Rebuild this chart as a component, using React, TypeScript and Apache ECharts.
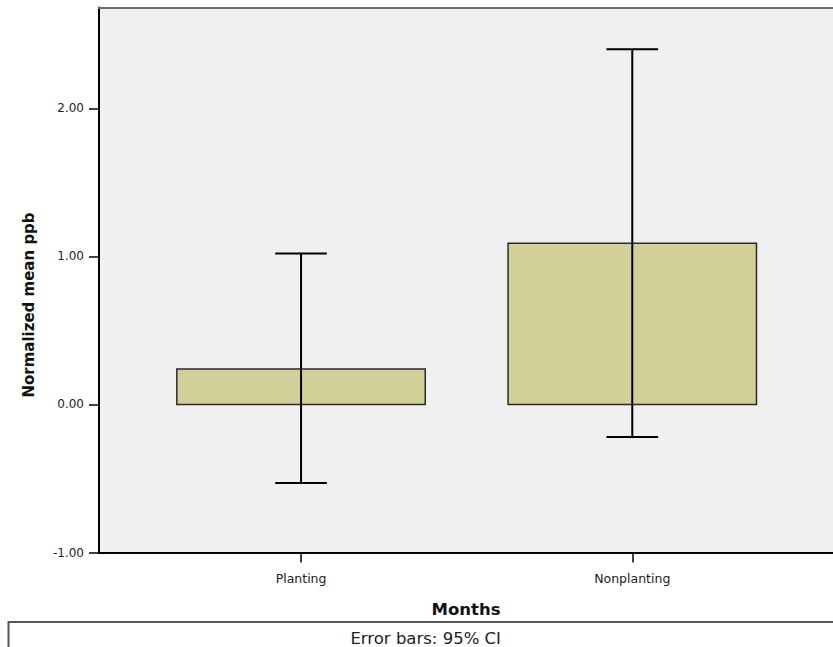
import React, { useEffect, useRef } from "react";
import * as echarts from "echarts";

const categories = ["Planting", "Nonplanting"];
const means = [0.24, 1.09];
const ciLow = [-0.53, -0.22];
const ciHigh = [1.02, 2.4];
const yTicks = [-1, 0, 1, 2];

const FONT = "DejaVu Sans";

export default function App() {
  const ref = useRef<HTMLDivElement>(null);
  useEffect(() => {
    if (!ref.current) return;
    const chart = echarts.init(ref.current, undefined, { renderer: "svg" });
    const catPos = categories.map((_, i) => i);
    const barData = categories.map((c, i) => [i, means[i]]);
    const errData = categories.map((c, i) => [i, ciLow[i], ciHigh[i]]);
    const halfBar = 0.375;
    const halfCap = 0.078;

    chart.setOption({
      animation: false,
      backgroundColor: "#ffffff",
      grid: {
        left: 99,
        top: 7.5,
        right: -2,
        bottom: 94.5,
        show: true,
        backgroundColor: "#f0f0f0",
        borderWidth: 0,
      },
      xAxis: [
        {
          type: "value",
          min: -0.61,
          max: 1.606,
          position: "bottom",
          name: "Months",
          nameLocation: "middle",
          nameGap: 48,
          nameTextStyle: { fontFamily: FONT, fontWeight: "bold", fontSize: 16.5, color: "#111" },
          axisLine: { show: true, onZero: false, lineStyle: { color: "#000", width: 2 } },
          axisTick: { show: true, customValues: catPos, length: 10, lineStyle: { color: "#000", width: 1.5 } },
          axisLabel: {
            customValues: catPos,
            margin: 19,
            fontFamily: FONT,
            fontSize: 12.5,
            color: "#222",
            formatter: (v: number) => categories[Math.round(v)] ?? "",
          },
          splitLine: { show: false },
        },
        {
          type: "value",
          min: -0.61,
          max: 1.606,
          position: "top",
          axisLine: { show: true, onZero: false, lineStyle: { color: "#6e6e6e", width: 2 } },
          axisTick: { show: false },
          axisLabel: { show: false },
          splitLine: { show: false },
        },
      ],
      yAxis: {
        type: "value",
        min: -1,
        max: 2.682,
        name: "Normalized mean ppb",
        nameLocation: "middle",
        nameGap: 63,
        nameTextStyle: {
          fontFamily: FONT,
          fontWeight: "bold",
          fontSize: 15,
          color: "#111",
          padding: [0, 50, 0, 0],
        },
        axisLine: { show: true, onZero: false, lineStyle: { color: "#000", width: 2 } },
        axisTick: { show: true, customValues: yTicks, length: 10, lineStyle: { color: "#000", width: 1.5 } },
        axisLabel: {
          customValues: yTicks,
          margin: 15,
          fontFamily: FONT,
          fontSize: 12,
          color: "#222",
          formatter: (v: number) => v.toFixed(2),
        },
        splitLine: { show: false },
      },
      graphic: [
        {
          type: "rect",
          left: 6,
          top: 619.5,
          shape: { width: 900, height: 60 },
          style: { fill: "none", stroke: "#555", lineWidth: 2 },
          silent: true,
        },
        {
          type: "text",
          x: 425.7,
          y: 638.8,
          style: {
            text: "Error bars: 95% CI",
            font: `16.5px "${FONT}"`,
            fill: "#222",
            textAlign: "center",
            textVerticalAlign: "middle",
          },
          silent: true,
        },
      ],
      series: [
        {
          type: "custom",
          xAxisIndex: 0,
          yAxisIndex: 0,
          data: barData,
          z: 2,
          renderItem: (params: any, api: any) => {
            const x = api.value(0);
            const v = api.value(1);
            const p1 = api.coord([x - halfBar, v]);
            const p2 = api.coord([x + halfBar, 0]);
            return {
              type: "rect",
              shape: {
                x: Math.min(p1[0], p2[0]),
                y: Math.min(p1[1], p2[1]),
                width: Math.abs(p2[0] - p1[0]),
                height: Math.abs(p2[1] - p1[1]),
              },
              style: { fill: "#d3cf98", stroke: "#2a2a2a", lineWidth: 1.5 },
            };
          },
        },
        {
          type: "custom",
          xAxisIndex: 0,
          yAxisIndex: 0,
          data: errData,
          z: 3,
          renderItem: (params: any, api: any) => {
            const x = api.value(0);
            const lo = api.value(1);
            const hi = api.value(2);
            const pLo = api.coord([x, lo]);
            const pHi = api.coord([x, hi]);
            const cl1 = api.coord([x - halfCap, lo]);
            const cl2 = api.coord([x + halfCap, lo]);
            const ch1 = api.coord([x - halfCap, hi]);
            const ch2 = api.coord([x + halfCap, hi]);
            const st = { stroke: "#000", lineWidth: 2 };
            return {
              type: "group",
              children: [
                { type: "line", shape: { x1: pLo[0], y1: pLo[1], x2: pHi[0], y2: pHi[1] }, style: st },
                { type: "line", shape: { x1: cl1[0], y1: cl1[1], x2: cl2[0], y2: cl2[1] }, style: st },
                { type: "line", shape: { x1: ch1[0], y1: ch1[1], x2: ch2[0], y2: ch2[1] }, style: st },
              ],
            };
          },
        },
      ],
    });
    return () => chart.dispose();
  }, []);

  return (
    <div
      ref={ref}
      style={{ position: "fixed", left: 0, top: 0, width: 833, height: 647, background: "#fff" }}
    />
  );
}
